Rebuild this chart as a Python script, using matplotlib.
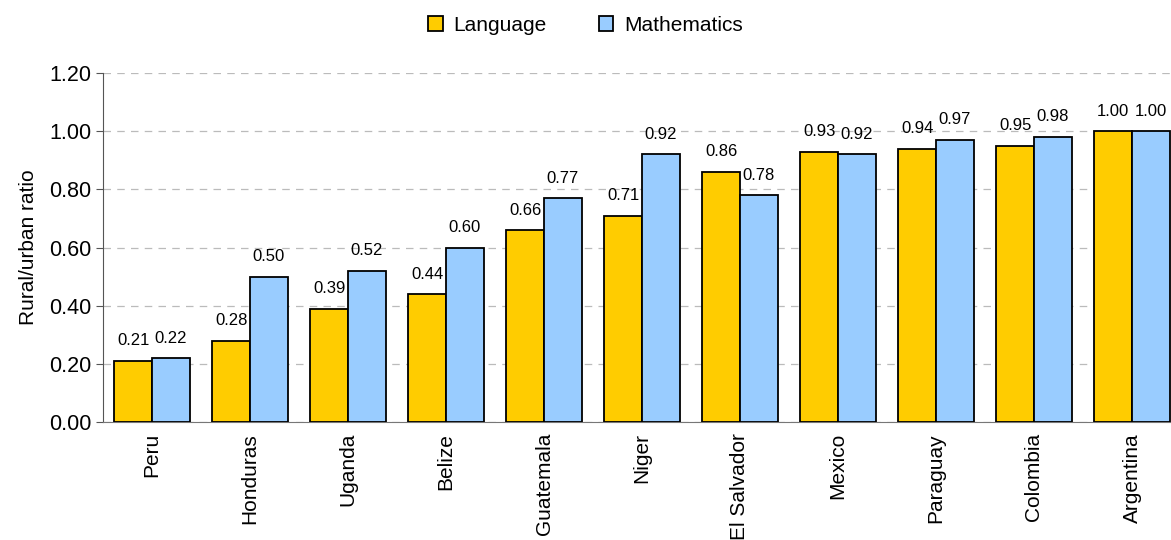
import numpy as np
import matplotlib.pyplot as plt

plt.rcParams['font.family'] = ['Liberation Sans', 'DejaVu Sans']

countries = ['Peru', 'Honduras', 'Uganda', 'Belize', 'Guatemala', 'Niger',
             'El Salvador', 'Mexico', 'Paraguay', 'Colombia', 'Argentina']
language = [0.21, 0.28, 0.39, 0.44, 0.66, 0.71, 0.86, 0.93, 0.94, 0.95, 1.00]
maths = [0.22, 0.50, 0.52, 0.60, 0.77, 0.92, 0.78, 0.92, 0.97, 0.98, 1.00]

fig = plt.figure(figsize=(11.71, 5.4), dpi=100)
ax = fig.add_axes([0.088, 0.2185, 0.9205, 0.6463])

x = np.arange(len(countries))
w = 0.385
b1 = ax.bar(x - w / 2, language, w, color='#ffcc00', edgecolor='black',
            linewidth=1.3, label='Language', zorder=3)
b2 = ax.bar(x + w / 2, maths, w, color='#99ccff', edgecolor='black',
            linewidth=1.3, label='Mathematics', zorder=3)

# value labels sit a little above each bar
for bars, vals in ((b1, language), (b2, maths)):
    for r, v in zip(bars, vals):
        ax.annotate(f'{v:.2f}', (r.get_x() + r.get_width() / 2, v),
                    xytext=(0, 9), textcoords='offset points',
                    ha='center', va='bottom', fontsize=12)

ax.set_xlim(-0.5, len(countries) - 0.5)
ax.set_ylim(0, 1.2)
ticks = np.arange(0, 1.21, 0.2)
ax.set_yticks(ticks)
ax.set_yticklabels([f'{t:.2f}' for t in ticks], fontsize=15.5)
ax.set_xticks(x)
ax.set_xticklabels(countries, rotation=90, fontsize=15)
ax.tick_params(axis='x', length=0, pad=8)
ax.tick_params(axis='y', length=5, color='#555555')
ax.set_ylabel('Rural/urban ratio', fontsize=15, labelpad=8)

ax.grid(axis='y', color='#bbbbbb', linestyle=(0, (6, 5)), linewidth=0.9, zorder=0)
for s in ('top', 'right'):
    ax.spines[s].set_visible(False)
ax.spines['left'].set_color('#555555')
ax.spines['bottom'].set_color('#777777')

fig.legend(loc='upper center', bbox_to_anchor=(0.5, 1.005), ncol=2, frameon=False,
           fontsize=15, handlelength=0.7, handleheight=0.7, columnspacing=2.5,
           handletextpad=0.5)

fig.savefig('out.png', dpi=100)
